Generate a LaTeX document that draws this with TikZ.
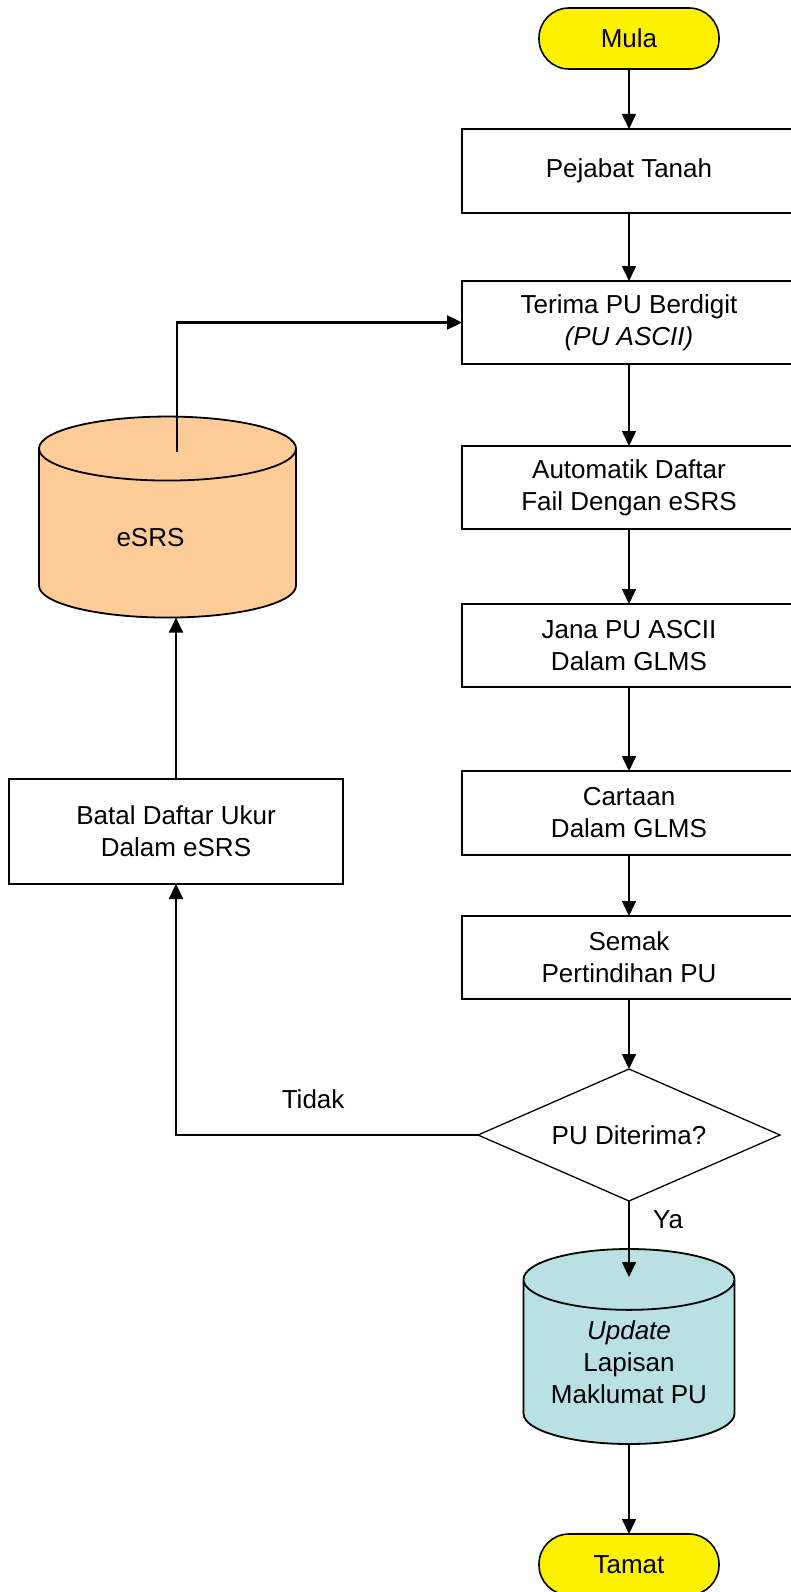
\documentclass[tikz,border=0pt]{standalone}
\usepackage{fontspec}
\setmainfont{Liberation Sans}
\usetikzlibrary{positioning,arrows.meta,shapes.geometric}

\definecolor{oren}{HTML}{FFCC99}
\definecolor{biru}{HTML}{B9E0E3}

\begin{document}
\begin{tikzpicture}[x=1pt, y=1pt, >={Triangle[length=15pt,width=14pt]},
        every node/.style={font=\fontsize{26}{32}\selectfont},
        proses/.style={draw, line width=1.6pt, align=center, minimum width=334pt, minimum height=83pt, inner sep=0pt, outer sep=0pt},
        hujung/.style={draw, line width=1.6pt, rounded corners=30pt, fill=yellow, minimum width=180pt, minimum height=61pt, outer sep=0pt},
        pangkalan/.style={draw, line width=1.8pt, cylinder, shape border rotate=90, align=center, inner sep=0pt, outer sep=0pt},
        keputusan/.style={draw, line width=1.3pt, diamond, aspect=2.29, minimum width=302pt, minimum height=132pt, inner sep=0pt, outer sep=0pt},
        aliran/.style={->, line width=1.6pt},
        balik/.style={->, line width=2.4pt}]
        \useasboundingbox (0,0) rectangle (790,-1592);

        % main column
        \node[hujung] (mula) at (629,-38.5) {Mula};
        \node[proses, minimum height=84pt, below=60pt of mula] (pejabat) {Pejabat Tanah};
        \node[proses, below=68pt of pejabat] (terima) {Terima PU Berdigit\\\textit{(PU ASCII)}};
        \node[proses, below=82pt of terima] (auto) {Automatik Daftar\\Fail Dengan eSRS};
        \node[proses, below=75pt of auto] (jana) {Jana PU ASCII\\Dalam GLMS};
        \node[proses, minimum height=84pt, below=84pt of jana] (cartaan) {Cartaan\\Dalam GLMS};
        \node[proses, below=61pt of cartaan] (semak) {Semak\\Pertindihan PU};
        \node[keputusan, below=70pt of semak] (putus) {PU Diterima?};
        \node[pangkalan, fill=biru, aspect=0.39, minimum width=211pt, minimum height=195pt, below=48pt of putus] (lapisan) {\textit{Update}\\Lapisan\\Maklumat PU};
        \node[hujung] (tamat) at (629,-1564.5) {Tamat};

        % left column
        \node[pangkalan, fill=oren, aspect=0.64, text width=100pt, minimum width=257pt, minimum height=201pt,
            label={[xshift=-17pt, yshift=-4pt]center:eSRS}] (esrs) at (167.5,-533.5) {};
        \node[proses, minimum height=105pt] (batal) at (176,-831.5) {Batal Daftar Ukur\\Dalam eSRS};
        \coordinate (esrsdalam) at ([xshift=9.5pt, yshift=-35pt]esrs.north);
        \coordinate (lapisandalam) at ([yshift=-28pt]lapisan.north);

        \draw[aliran] (mula) -- (pejabat);
        \draw[aliran] (pejabat) -- (terima);
        \draw[aliran] (terima) -- (auto);
        \draw[aliran] (auto) -- (jana);
        \draw[aliran] (jana) -- (cartaan);
        \draw[aliran] (cartaan) -- (semak);
        \draw[aliran] (semak) -- (putus);
        \draw[aliran] (putus) -- node[pos=0.25, right=20pt]{Ya} (lapisandalam);
        \draw[aliran] (lapisan) -- (tamat);
        \draw[balik] (putus.west) -| node[pos=0.273, above=22pt]{Tidak} (batal.south);
        \draw[balik] (batal.north) -- (batal.north |- esrs.south);
        \draw[balik] (esrsdalam) |- (terima.west);
\end{tikzpicture}
\end{document}
